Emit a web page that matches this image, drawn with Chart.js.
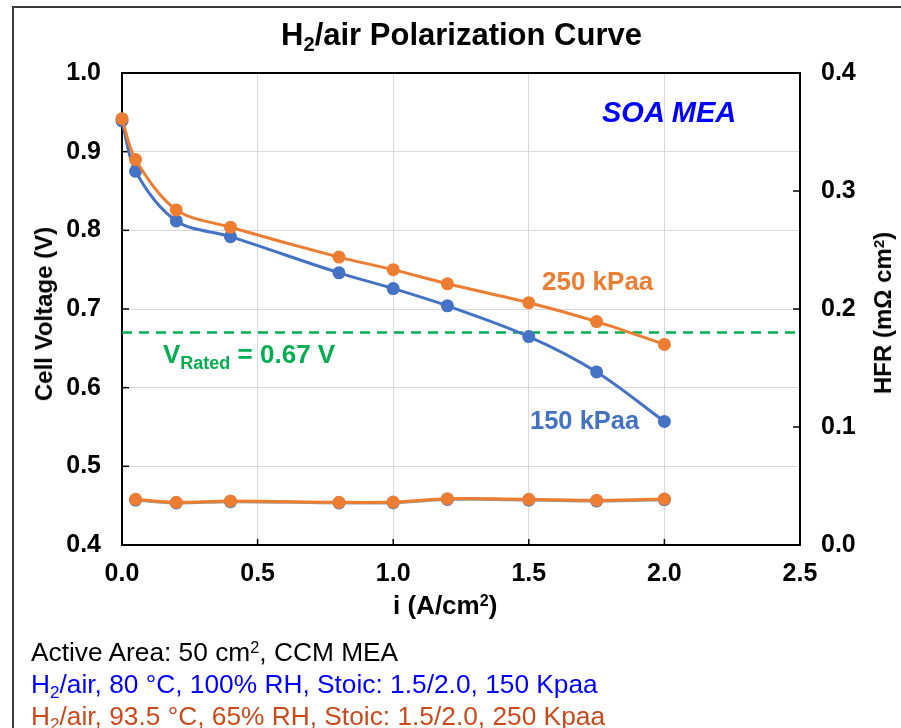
<!DOCTYPE html>
<html><head><meta charset="utf-8">
<script src="https://cdn.jsdelivr.net/npm/chart.js@4.4.1/dist/chart.umd.min.js"></script>
<style>
html,body{margin:0;padding:0;background:#fff;}
#wrap{position:relative;width:901px;height:728px;overflow:hidden;font-family:"Liberation Sans",Arial,sans-serif;}
#c{position:absolute;left:0;top:0;}
#frame{position:absolute;left:12px;top:6px;width:1000px;height:1000px;border-left:2px solid #3b3b3b;border-top:2px solid #3b3b3b;box-sizing:border-box;}
.t{position:absolute;white-space:nowrap;line-height:1;}
.b{font-weight:bold;}
.rot{transform:translate(-50%,-50%) rotate(-90deg);}
sub{font-size:65%;vertical-align:-0.28em;line-height:0;}
sup{font-size:62%;vertical-align:0.5em;line-height:0;}
</style></head>
<body><div id="wrap">
<div id="frame"></div>
<canvas id="c" width="901" height="728" style="width:901px;height:728px"></canvas>
<div class="t b" style="left:0;width:923px;text-align:center;top:19px;font-size:31px;color:#000">H<sub>2</sub>/air Polarization Curve</div>
<div class="t b rot" style="left:44px;top:314px;font-size:24px;color:#000">Cell Voltage (V)</div>
<div class="t b rot" style="left:883px;top:313px;font-size:24px;color:#000">HFR (mΩ cm<sup>2</sup>)</div>
<div class="t b" style="left:393px;top:592px;font-size:26px;color:#000">i (A/cm<sup>2</sup>)</div>
<div class="t b" style="left:602px;top:98px;font-size:29px;font-style:italic;color:#0000FF">SOA MEA</div>
<div class="t b" style="left:542px;top:268px;font-size:26px;color:#ED7D31">250 kPaa</div>
<div class="t b" style="left:530px;top:408px;font-size:25.5px;color:#4472C4">150 kPaa</div>
<div class="t b" style="left:163px;top:341px;font-size:26px;color:#00B050">V<span style="font-size:18px;position:relative;top:6px">Rated</span> = 0.67 V</div>
<div class="t" style="left:31px;top:639px;font-size:26.3px;color:#000">Active Area: 50 cm<sup>2</sup>, CCM MEA</div>
<div class="t" style="left:31px;top:671px;font-size:26.3px;color:#0000FF">H<sub>2</sub>/air, 80 °C, 100% RH, Stoic: 1.5/2.0, 150 Kpaa</div>
<div class="t" style="left:31px;top:703px;font-size:26.3px;color:#CC4A1A">H<sub>2</sub>/air, 93.5 °C, 65% RH, Stoic: 1.5/2.0, 250 Kpaa</div>
</div>
<script>
// ---- data ----
const currentDensity = [0, 0.05, 0.2, 0.4, 0.8, 1.0, 1.2, 1.5, 1.75, 2.0];
const voltage150 = [0.939, 0.875, 0.812, 0.792, 0.746, 0.726, 0.704, 0.665, 0.620, 0.557];
const voltage250 = [0.942, 0.890, 0.826, 0.804, 0.766, 0.750, 0.732, 0.708, 0.684, 0.655];
const hfrCurrent = [0.05, 0.2, 0.4, 0.8, 1.0, 1.2, 1.5, 1.75, 2.0];
const hfr250 = [0.0387, 0.0362, 0.0373, 0.0362, 0.0364, 0.0392, 0.0387, 0.0379, 0.0390];
const hfr150 = [0.0381, 0.0356, 0.0367, 0.0356, 0.0358, 0.0386, 0.0381, 0.0373, 0.0384];
const ratedCurrent = [0, 2.5];
const ratedVoltage = [0.67, 0.67];
const xTicks = [0, 0.5, 1.0, 1.5, 2.0, 2.5];
const yTicks = [0.4, 0.5, 0.6, 0.7, 0.8, 0.9, 1.0];
const y2Ticks = [0.0, 0.1, 0.2, 0.3, 0.4];

const F = '"Liberation Sans", Arial, sans-serif';
const pts = (xs, ys) => xs.map((x, i) => ({x, y: ys[i]}));
const ORANGE = '#ED7D31', BLUE = '#4472C4', GREEN = '#00B050';

const framePlugin = {
  id: 'framePlugin',
  beforeDatasetsDraw(chart) {
    const {ctx, chartArea: a, scales} = chart;
    ctx.save();
    ctx.strokeStyle = '#000';
    ctx.lineWidth = 1.5;
    scales.y.ticks.forEach(t => {
      const p = scales.y.getPixelForValue(t.value);
      ctx.beginPath(); ctx.moveTo(a.left, p); ctx.lineTo(a.left + 7, p); ctx.stroke();
    });
    scales.y2.ticks.forEach(t => {
      const p = scales.y2.getPixelForValue(t.value);
      ctx.beginPath(); ctx.moveTo(a.right, p); ctx.lineTo(a.right - 7, p); ctx.stroke();
    });
    scales.x.ticks.forEach(t => {
      const p = scales.x.getPixelForValue(t.value);
      ctx.beginPath(); ctx.moveTo(p, a.bottom); ctx.lineTo(p, a.bottom - 6); ctx.stroke();
    });
    ctx.lineWidth = 2;
    ctx.strokeRect(a.left, a.top, a.right - a.left, a.bottom - a.top);
    ctx.restore();
  }
};

const tickFont = {family: F, size: 25, weight: 'bold'};
const fixedTicks = arr => (scale) => { scale.ticks = arr.map(v => ({value: v})); };
const R = 6.5;

new Chart(document.getElementById('c'), {
  type: 'line',
  data: {
    datasets: [
      {label: '250 kPaa', data: pts(currentDensity, voltage250), yAxisID: 'y', borderColor: ORANGE, backgroundColor: ORANGE, borderWidth: 3, pointRadius: R, pointBorderWidth: 0, tension: 0.33, clip: false},
      {label: '150 kPaa', data: pts(currentDensity, voltage150), yAxisID: 'y', borderColor: BLUE, backgroundColor: BLUE, borderWidth: 3, pointRadius: R, pointBorderWidth: 0, tension: 0.33, clip: false},
      {label: 'HFR 250 kPaa', data: pts(hfrCurrent, hfr250), yAxisID: 'y2', borderColor: ORANGE, backgroundColor: ORANGE, borderWidth: 3, pointRadius: R, pointBorderWidth: 0, tension: 0.33, clip: false},
      {label: 'HFR 150 kPaa', data: pts(hfrCurrent, hfr150), yAxisID: 'y2', borderColor: '#9a9a9a', backgroundColor: BLUE, borderWidth: 3, pointRadius: R, pointBorderWidth: 0, tension: 0.33, clip: false},
      {label: 'V Rated', data: pts(ratedCurrent, ratedVoltage), yAxisID: 'y', borderColor: GREEN, borderWidth: 2.5, borderDash: [10, 7], pointRadius: 0, tension: 0}
    ]
  },
  options: {
    responsive: false,
    animation: false,
    devicePixelRatio: 1,
    layout: {padding: {left: 0, right: 0, top: 73, bottom: 103}},
    plugins: {legend: {display: false}, title: {display: false}, tooltip: {enabled: false}},
    scales: {
      x: {
        type: 'linear', min: 0, max: 2.5,
        afterBuildTicks: fixedTicks(xTicks),
        ticks: {font: tickFont, color: '#000', padding: 14, maxRotation: 0, callback: v => v.toFixed(1)},
        grid: {color: '#D9D9D9', lineWidth: 1, drawTicks: false},
        border: {display: false},
        title: {display: false},
        afterFit(s) { s.height = 80; }
      },
      y: {
        position: 'left', min: 0.4, max: 1.0,
        afterBuildTicks: fixedTicks(yTicks),
        ticks: {font: tickFont, color: '#000', padding: 21, callback: v => v.toFixed(1)},
        grid: {color: '#D9D9D9', lineWidth: 1, drawTicks: false},
        border: {display: false},
        title: {display: false},
        afterFit(s) { s.width = 122; }
      },
      y2: {
        position: 'right', min: 0, max: 0.4,
        afterBuildTicks: fixedTicks(y2Ticks),
        ticks: {font: tickFont, color: '#000', padding: 21, callback: v => v.toFixed(1)},
        grid: {display: false, drawTicks: false},
        border: {display: false},
        afterFit(s) { s.width = 101; }
      }
    }
  },
  plugins: [framePlugin]
});
</script>
</body></html>
